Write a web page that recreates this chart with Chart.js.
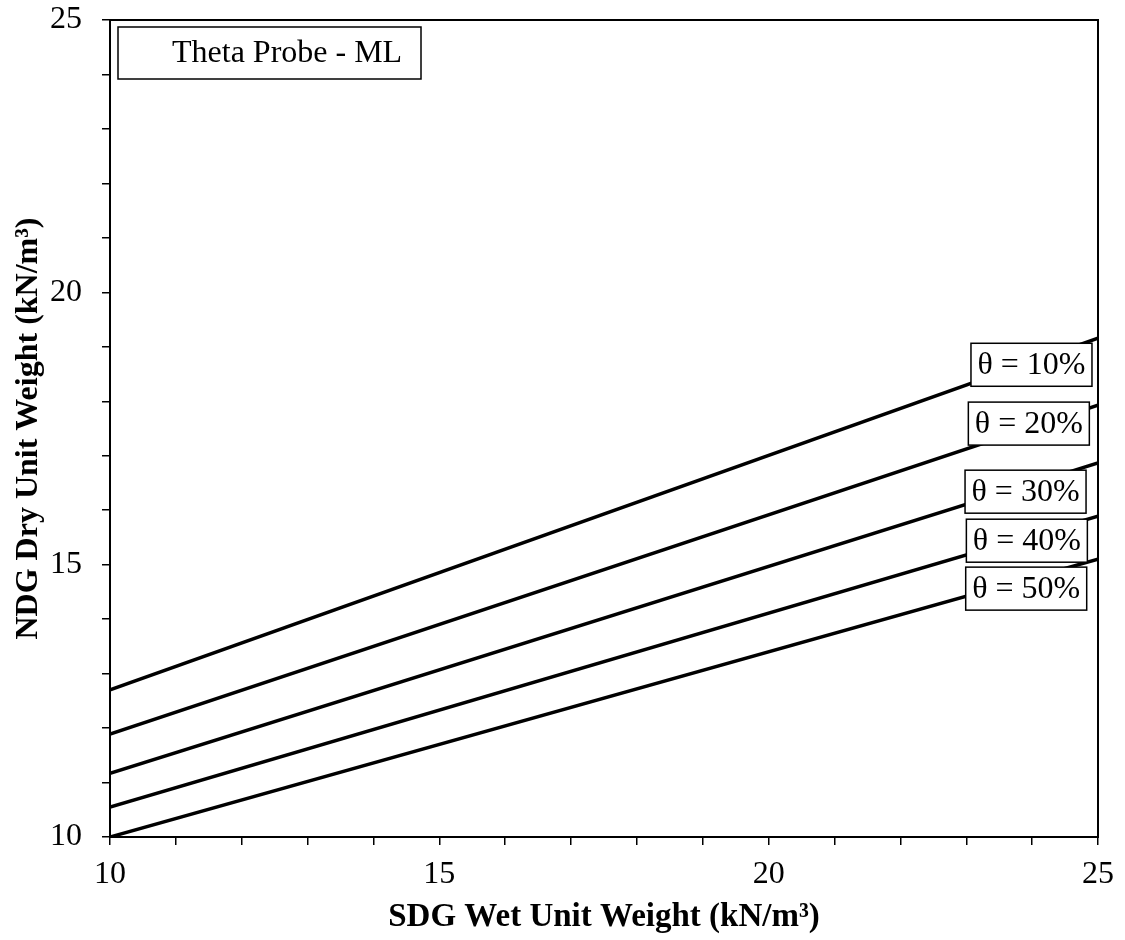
<!DOCTYPE html>
<html>
<head>
<meta charset="utf-8">
<script src="https://cdn.jsdelivr.net/npm/chart.js@4.4.0/dist/chart.umd.min.js"></script>
<style>
  html, body { margin: 0; padding: 0; background: #fff; }
  #wrap { width: 1125px; height: 940px; }
</style>
</head>
<body>
<div id="wrap"><canvas id="chart" width="1125" height="940"></canvas></div>
<script>
// Line end points (x = SDG wet unit weight)
const wetWeight = [10, 25];
const dry10 = [12.70, 19.16];
const dry20 = [11.89, 17.93];
const dry30 = [11.17, 16.87];
const dry40 = [10.55, 15.89];
const dry50 = [10.00, 15.10];
const seriesLabels = ['θ = 10%', 'θ = 20%', 'θ = 30%', 'θ = 40%', 'θ = 50%'];
const axisMin = 10;
const axisMax = 25;
const majorStep = 5;

const FONT = '"Liberation Serif", "Times New Roman", serif';

function toPoints(ys) {
    return wetWeight.map((x, i) => ({ x: x, y: ys[i] }));
}

const allSeries = [dry10, dry20, dry30, dry40, dry50];

// Where each θ label box sits (data coords of box centre)
const labelAnchors = [
    { x: 23.99, y: 18.67 },
    { x: 23.95, y: 17.59 },
    { x: 23.90, y: 16.34 },
    { x: 23.92, y: 15.44 },
    { x: 23.91, y: 14.56 }
];

// Frame round the plot area plus the boxed labels
const annotationPlugin = {
    id: 'annotations',
    afterDraw(chart) {
        const ctx = chart.ctx;
        const area = chart.chartArea;
        const xs = chart.scales.x;
        const ys = chart.scales.y;
        ctx.save();

        ctx.strokeStyle = '#000';
        ctx.lineWidth = 2;
        ctx.strokeRect(area.left, area.top, area.right - area.left, area.bottom - area.top);

        // title box top left
        ctx.lineWidth = 1.5;
        ctx.fillStyle = '#fff';
        ctx.fillRect(118, 27, 303, 52);
        ctx.strokeRect(118, 27, 303, 52);
        ctx.fillStyle = '#000';
        ctx.font = '32px ' + FONT;
        ctx.textAlign = 'left';
        ctx.textBaseline = 'middle';
        ctx.fillText('Theta Probe - ML', 172, 54);

        // θ labels
        const w = 121, h = 43;
        seriesLabels.forEach((txt, i) => {
            const cx = xs.getPixelForValue(labelAnchors[i].x);
            const cy = ys.getPixelForValue(labelAnchors[i].y);
            ctx.fillStyle = '#fff';
            ctx.fillRect(cx - w / 2, cy - h / 2, w, h);
            ctx.strokeRect(cx - w / 2, cy - h / 2, w, h);
            ctx.fillStyle = '#000';
            ctx.textAlign = 'center';
            ctx.fillText(txt, cx, cy + 1);
        });
        ctx.restore();
    }
};

const tickFmt = v => (v % majorStep === 0 ? v : '');

const chart = new Chart(document.getElementById('chart'), {
    type: 'scatter',
    data: {
        datasets: allSeries.map((ys, i) => ({
            label: seriesLabels[i],
            data: toPoints(ys),
            showLine: true,
            borderColor: '#000',
            borderWidth: 3.5,
            pointRadius: 0,
            fill: false
        }))
    },
    options: {
        responsive: false,
        animation: false,
        layout: { padding: { top: 20, right: 27, left: 0, bottom: 0 } },
        plugins: {
            legend: { display: false },
            tooltip: { enabled: false }
        },
        scales: {
            x: {
                type: 'linear',
                min: axisMin,
                max: axisMax,
                border: { display: true, color: '#000', width: 2 },
                grid: { drawOnChartArea: false, drawTicks: true, tickLength: 8, color: '#000', lineWidth: 1.5 },
                ticks: {
                    stepSize: 1,
                    autoSkip: false,
                    maxRotation: 0,
                    padding: 10,
                    color: '#000',
                    font: { family: FONT, size: 32 },
                    callback: tickFmt
                },
                title: {
                    display: true,
                    text: 'SDG Wet Unit Weight (kN/m³)',
                    color: '#000',
                    font: { family: FONT, size: 33, weight: 'bold' },
                    padding: { top: 0, bottom: 3 }
                },
                afterFit(scale) {
                    scale.height = 103;
                    scale.paddingLeft = 0;
                    scale.paddingRight = 0;
                }
            },
            y: {
                type: 'linear',
                min: axisMin,
                max: axisMax,
                border: { display: true, color: '#000', width: 2 },
                grid: { drawOnChartArea: false, drawTicks: true, tickLength: 8, color: '#000', lineWidth: 1.5 },
                ticks: {
                    stepSize: 1,
                    autoSkip: false,
                    padding: 20,
                    color: '#000',
                    font: { family: FONT, size: 32 },
                    callback: tickFmt
                },
                title: {
                    display: true,
                    text: 'NDG Dry Unit Weight (kN/m³)',
                    color: '#000',
                    font: { family: FONT, size: 32, weight: 'bold' },
                    padding: { top: 10, bottom: 0 }
                },
                afterFit(scale) {
                    scale.width = 110;
                    scale.paddingTop = 0;
                    scale.paddingBottom = 0;
                }
            }
        }
    },
    plugins: [annotationPlugin]
});
</script>
</body>
</html>
